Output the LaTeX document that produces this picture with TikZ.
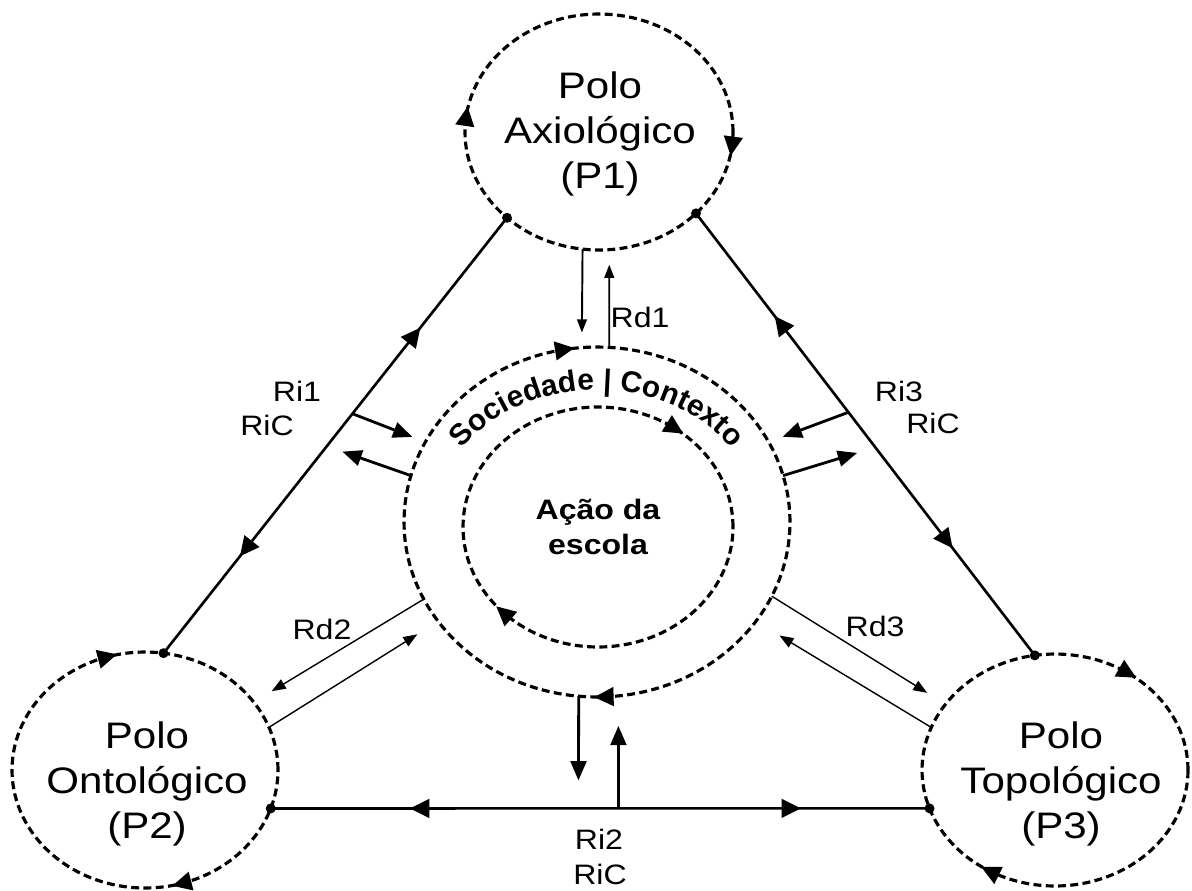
\documentclass[tikz,border=0pt]{standalone}
\usepackage{fontspec}
\setmainfont{Liberation Sans}[FakeStretch=1.14]
\newfontfamily\arcfont{Liberation Sans}
\usepackage{tikz}
\usetikzlibrary{arrows.meta,positioning,calc,shapes.geometric,decorations.markings,decorations.text}

\begin{document}
\begin{tikzpicture}[x=0.02cm,y=-0.02cm,
    fwd/.style={postaction={decorate,decoration={markings,mark=at position #1 with
      {\fill[solid] (-5.5pt,-5.5pt) -- (5.5pt,0pt) -- (-5.5pt,5.5pt) -- cycle;}}}},
    back/.style={postaction={decorate,decoration={markings,mark=at position #1 with
      {\fill[solid] (5.5pt,-5.5pt) -- (-5.5pt,0pt) -- (5.5pt,5.5pt) -- cycle;}}}}]
  \tikzstyle{ring}=[ellipse,draw,line width=1.8pt,dash pattern=on 4.5pt off 2.5pt,inner sep=0pt,outer sep=0pt]
  \tikzstyle{poletxt}=[align=center,font=\fontsize{21}{25.5}\selectfont]
  \tikzstyle{lbl}=[font=\fontsize{16}{18}\selectfont,inner sep=0pt]
  \tikzstyle{side}=[line width=1.5pt]
  \tikzstyle{ri}=[line width=1.6pt,-{Triangle[length=11pt,width=9pt]}]
  \tikzstyle{rd}=[line width=0.8pt,-{Triangle[length=8pt,width=6pt]}]
  \tikzstyle{rdone}=[line width=1.1pt,-{Triangle[length=7.5pt,width=5.5pt]}]
  \useasboundingbox (0,0) rectangle (1192,890);

  \node[ring,minimum width=5.36cm,minimum height=4.72cm,back=0.48,back=0.982] (p1) at (599,132) {};
  \node[ring,minimum width=5.32cm,minimum height=4.72cm,back=0.298,back=0.797] (p2) at (145,770) {};
  \node[ring,minimum width=5.32cm,minimum height=4.64cm,back=0.153,back=0.664] (p3) at (1055,770) {};
  \node[ring,minimum width=7.72cm,minimum height=7.0cm,back=0.278,back=0.756] (soc) at (597,522) {};
  \node[ring,minimum width=5.4cm,minimum height=4.8cm,back=0.149,back=0.622,
    align=center,font=\bfseries\fontsize{16}{19.5}\selectfont] (act) at (598,527) {Ação da\\escola};

  \node[poletxt] (p1t) at (600,134) {Polo\\Axiológico\\(P1)};
  \node[poletxt] (p2t) at (147,784) {Polo\\Ontológico\\(P2)};
  \node[poletxt] (p3t) at (1061,784) {Polo\\Topológico\\(P3)};

  \path[decorate,decoration={text along path,text format delimiters={[}{]},
      text={[\arcfont\bfseries\fontsize{17}{17}\selectfont]Sociedade | Contexto},text align=center}]
    ($(soc.center)+(210:162 and 132)$) arc[start angle=210,end angle=330,x radius=162,y radius=132];

  \draw[side,back=0.27,fwd=0.76] (p1.223) -- (p2.81);
  \draw[side,back=0.25,fwd=0.74] (p1.320) -- (p3.100);
  \draw[side,back=0.226,fwd=0.79] (p2.343) -- (p3.197);
  \foreach \d in {p1.223,p1.320,p2.81,p2.343,p3.100,p3.197}
    \fill (\d) circle (5);

  \path (p1.223) -- (p2.81) coordinate[pos=0.45] (s1a) coordinate[pos=0.5246] (s1b);
  \path (p1.320) -- (p3.100) coordinate[pos=0.45] (s3a) coordinate[pos=0.5293] (s3b);
  \path (p2.343) -- (p3.197) coordinate[pos=0.467] (s2a) coordinate[pos=0.528] (s2b);

  \draw[ri,shorten >=0.28cm] (s1a) -- (soc.155);
  \draw[ri,shorten >=0.33cm] (soc.166) -- (s1b);
  \draw[ri,shorten >=0.30cm] (s3a) -- (soc.25);
  \draw[ri,shorten >=0.38cm] (soc.14) -- (s3b);
  \draw[ri,shorten >=0.56cm] (soc.264) -- (s2a);
  \draw[ri,shorten >=0.60cm] (s2b) -- (soc.277);

  \draw[rdone,shorten >=0.3cm] (p1.262) -- (soc.95);
  \draw[rdone,shorten >=0.3cm] (soc.86) -- (p1.275);
  \draw[rd,shorten >=0.42cm] (soc.204) -- (p2.32);
  \draw[rd,shorten >=0.49cm] (p2.19) -- (soc.212);
  \draw[rd,shorten >=0.43cm] (soc.337) -- (p3.149);
  \draw[rd,shorten >=0.55cm] (p3.161) -- (soc.328);

  \node[lbl] (rd1) at (640,317) {Rd1};
  \node[lbl] (rd2) at (322,629) {Rd2};
  \node[lbl] (rd3) at (875,626) {Rd3};
  \node[lbl] (ri1) at (297,391) {Ri1};
  \node[lbl] (ric1) at (267,425) {RiC};
  \node[lbl] (ri3) at (899,391) {Ri3};
  \node[lbl] (ric3) at (933,423) {RiC};
  \node[lbl] (ri2) at (599,839) {Ri2};
  \node[lbl] (ric2) at (600,874) {RiC};
\end{tikzpicture}
\end{document}
